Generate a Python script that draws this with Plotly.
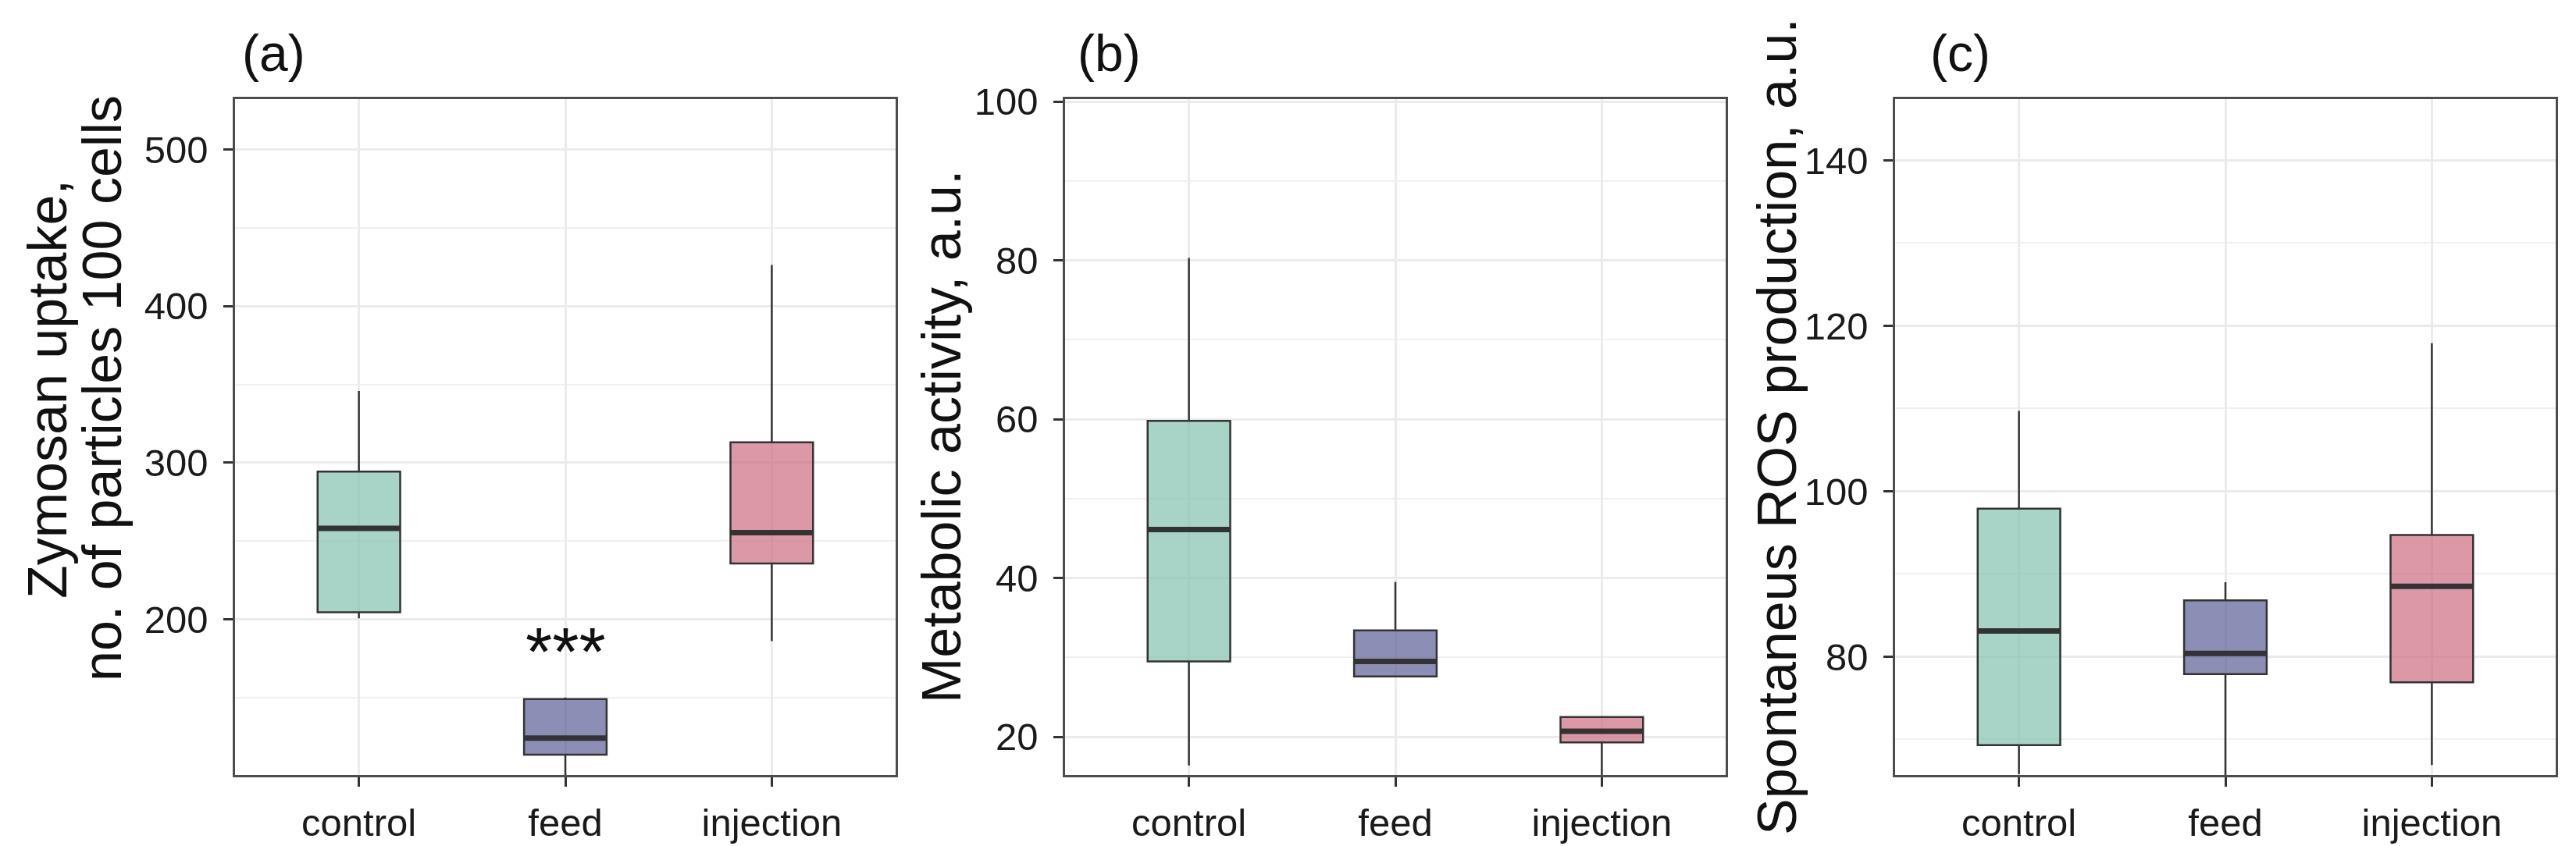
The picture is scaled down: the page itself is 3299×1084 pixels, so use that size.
import plotly.graph_objects as go

W, H = 3299, 1084

groups = ["control", "feed", "injection"]
fills = ["rgba(129,194,175,0.7)", "rgba(92,94,149,0.7)", "rgba(205,108,128,0.7)"]

# box stats per group: lower whisker, q1, median, q3, upper whisker
zym_low = [200.6, 100.0, 186.0]
zym_q1 = [204.5, 113.5, 235.6]
zym_med = [258.0, 124.0, 255.3]
zym_q3 = [294.3, 149.0, 313.0]
zym_up = [345.8, 150.0, 426.4]

met_low = [16.4, 27.6, 14.0]
met_q1 = [29.5, 27.6, 19.3]
met_med = [46.1, 29.5, 20.7]
met_q3 = [59.8, 33.4, 22.5]
met_up = [80.3, 39.5, 22.5]

ros_low = [65.8, 65.0, 66.9]
ros_q1 = [69.3, 77.9, 76.9]
ros_med = [83.1, 80.4, 88.5]
ros_q3 = [97.9, 86.8, 94.7]
ros_up = [109.7, 89.0, 117.9]

panels = [
    dict(low=zym_low, q1=zym_q1, med=zym_med, q3=zym_q3, up=zym_up,
         yrange=[100.5, 532.3], dtick=100, minor=50, tag="(a)"),
    dict(low=met_low, q1=met_q1, med=met_med, q3=met_q3, up=met_up,
         yrange=[15.2, 100.3], dtick=20, minor=10, tag="(b)"),
    dict(low=ros_low, q1=ros_q1, med=ros_med, q3=ros_q3, up=ros_up,
         yrange=[65.7, 147.4], dtick=20, minor=10, tag="(c)"),
]

# panel pixel boxes (left, right); top/bottom shared
px_lr = [(293, 1139), (1356, 2202), (2419, 3265)]
top_px, bot_px = 119, 985
box_w = 0.4
pos = [1, 2, 3]

FONT = "Liberation Sans, Arial, sans-serif"
EDGE = "#333333"

fig = go.Figure()

for i, p in enumerate(panels):
    xa = "x" if i == 0 else f"x{i+1}"
    ya = "y" if i == 0 else f"y{i+1}"
    for j, g in enumerate(groups):
        fig.add_trace(go.Box(
            x=[pos[j]], q1=[p["q1"][j]], median=[p["med"][j]], q3=[p["q3"][j]],
            lowerfence=[p["low"][j]], upperfence=[p["up"][j]],
            width=box_w, whiskerwidth=0, fillcolor=fills[j],
            line=dict(color=EDGE, width=2.5), name=g, showlegend=False,
            hoverinfo="skip", xaxis=xa, yaxis=ya))
    mx, my = [], []
    for j in range(3):
        mx += [pos[j] - box_w / 2, pos[j] + box_w / 2, None]
        my += [p["med"][j], p["med"][j], None]
    fig.add_trace(go.Scatter(x=mx, y=my, mode="lines", line=dict(color=EDGE, width=7),
                             showlegend=False, hoverinfo="skip", xaxis=xa, yaxis=ya))

    l, r = px_lr[i]
    axis_common = dict(showline=True, mirror=True, linecolor="#4d4d4d", linewidth=2.5,
                       ticks="outside", ticklen=12, tickwidth=2.5, tickcolor=EDGE,
                       showgrid=True, gridcolor="#EBEBEB", gridwidth=2.5,
                       zeroline=False, automargin=False,
                       tickfont=dict(family=FONT, size=49, color="#1a1a1a"))
    xkey = "xaxis" if i == 0 else f"xaxis{i+1}"
    ykey = "yaxis" if i == 0 else f"yaxis{i+1}"
    fig.update_layout(**{
        xkey: dict(axis_common, domain=[l / W, r / W], range=[0.4, 3.6],
                   tickvals=pos, ticktext=groups, anchor=ya, ticklabelstandoff=4),
        ykey: dict(axis_common, domain=[1 - bot_px / H, 1 - top_px / H],
                   range=p["yrange"], dtick=p["dtick"], tick0=0, anchor=xa,
                   ticklabelstandoff=10,
                   minor=dict(dtick=p["minor"], tick0=0, showgrid=True,
                              gridcolor="#F0F0F0", gridwidth=1.5, ticks="")),
    })

# panel tags
tag_x = [300, 1370, 2462]
for i, p in enumerate(panels):
    fig.add_annotation(text=p["tag"], xref="paper", yref="paper", x=tag_x[i] / W,
                       y=1 - 60 / H, xanchor="left", yanchor="middle", showarrow=False,
                       font=dict(family=FONT, size=66, color="#111111"))

# y-axis titles
titles = [
    ("Zymosan uptake,", 53, 491),
    ("no. of particles 100 cells", 123, 490),
    ("Metabolic activity, a.u.", 1198, 552),
    ("Spontaneus ROS production, a.u.", 2268, 539),
]
for t, cx, cy in titles:
    fig.add_annotation(text=t, xref="paper", yref="paper", x=cx / W, y=1 - cy / H,
                       xanchor="center", yanchor="middle", textangle=-90, showarrow=False,
                       font=dict(family=FONT, size=70, color="#111111"))

# significance mark above feed in panel (a)
fig.add_annotation(text="***", xref="x", yref="y", x=pos[1], y=179.5,
                   xanchor="center", yanchor="middle", showarrow=False,
                   font=dict(family=FONT, size=88, color="#111111"))

fig.update_layout(width=W, height=H, autosize=False,
                  margin=dict(l=0, r=0, t=0, b=0),
                  paper_bgcolor="white", plot_bgcolor="white")

fig.write_html("out.html")
